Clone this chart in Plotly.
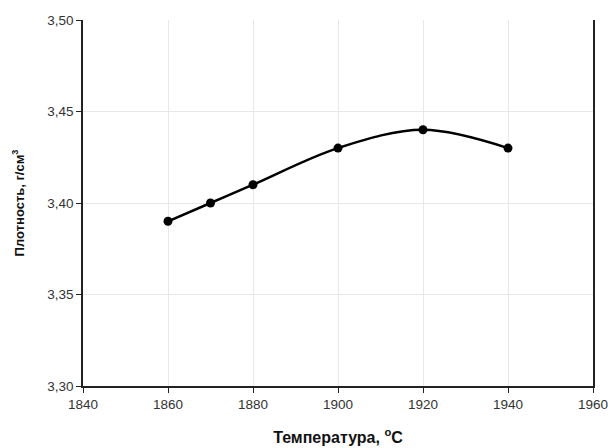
import plotly.graph_objects as go

temps = [1860, 1870, 1880, 1900, 1920, 1940]
density = [3.39, 3.40, 3.41, 3.43, 3.44, 3.43]
x_ticks = [1840, 1860, 1880, 1900, 1920, 1940, 1960]
y_ticks = [3.30, 3.35, 3.40, 3.45, 3.50]
y_tick_text = ["3,30", "3,35", "3,40", "3,45", "3,50"]

fig = go.Figure()
fig.add_trace(go.Scatter(
    x=temps, y=density, mode="lines+markers",
    line=dict(color="black", width=2.5, shape="spline", smoothing=1.0),
    marker=dict(color="black", size=9),
    showlegend=False,
))

font = "Liberation Sans, Arial, sans-serif"
fig.update_layout(
    width=608, height=448,
    margin=dict(l=83, r=15, t=20, b=62),
    paper_bgcolor="white", plot_bgcolor="white",
    font=dict(family=font, size=13.5, color="#333"),
    xaxis=dict(
        range=[1840, 1960], tickvals=x_ticks,
        showgrid=True, gridcolor="#e8e8e8", gridwidth=1,
        showline=True, linecolor="#222", linewidth=1.5, mirror=False,
        ticks="outside", ticklen=5, tickcolor="#222",
        zeroline=False, automargin=False, ticklabeloverflow="allow",
        title=dict(text="<b>Температура, <sup>o</sup>C</b>", font=dict(size=16, family=font, color="#111"), standoff=21),
    ),
    yaxis=dict(
        range=[3.30, 3.50], tickvals=y_ticks, ticktext=y_tick_text,
        showgrid=True, gridcolor="#e8e8e8", gridwidth=1,
        showline=True, linecolor="#222", linewidth=1.5, mirror=True,
        ticks="outside", ticklen=5, tickcolor="#222",
        zeroline=False, automargin=False, ticklabeloverflow="allow",
        title=dict(text="<b>Плотность, г/см<sup>3</sup></b>", font=dict(size=13, family=font, color="#111"), standoff=20),
    ),
)

fig.write_html("out.html", config={"displayModeBar": False},
               post_script="document.body.style.margin='0';document.body.style.overflow='hidden';")
